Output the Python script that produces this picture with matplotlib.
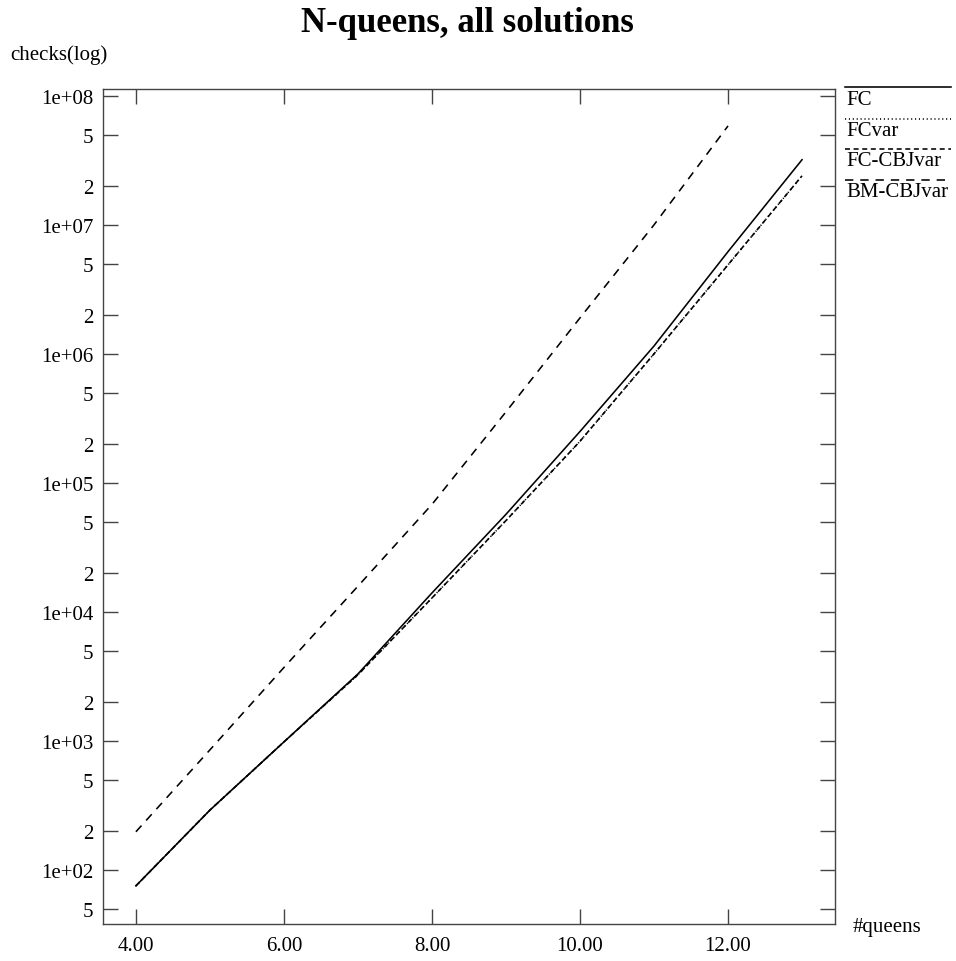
import numpy as np
import matplotlib
matplotlib.use("Agg")
import matplotlib.pyplot as plt
from matplotlib.lines import Line2D

plt.rcParams["font.family"] = ["Liberation Serif", "DejaVu Serif"]
plt.rcParams["lines.scale_dashes"] = False

# number of queens and consistency checks per algorithm
queens = [4, 5, 6, 7, 8, 9, 10, 11, 12, 13]
fc = [75, 290, 980, 3300, 14000, 57000, 2.5e5, 1.15e6, 6.2e6, 3.2e7]
fc_var = [75, 290, 980, 3250, 12800, 51000, 2.1e5, 1.0e6, 4.9e6, 2.4e7]
fc_cbj_var = [75, 290, 980, 3250, 12800, 51000, 2.1e5, 1.0e6, 4.9e6, 2.4e7]
queens_bm = [4, 5, 6, 7, 8, 9, 10, 11, 12]
bm_cbj_var = [197, 850, 3700, 15800, 68000, 355000, 1.9e6, 1.0e7, 5.85e7]

series = [
    ("FC", queens, fc, "-"),
    ("FCvar", queens, fc_var, (0, (0.8, 2.0))),
    ("FC-CBJvar", queens, fc_cbj_var, (0, (3.6, 2.6))),
    ("BM-CBJvar", queens_bm, bm_cbj_var, (0, (6.0, 5.0))),
]

x_ticks = [4, 6, 8, 10, 12]
y_ticks = [m * 10.0 ** e for e in range(1, 9) for m in (1, 2, 5)]
y_ticks = [v for v in y_ticks if 50 <= v <= 1e8]

fig = plt.figure(figsize=(9.56, 9.62), dpi=100)
ax = fig.add_axes([0.1077, 0.0385, 0.7657, 0.8679])

for name, xs, ys, ls in series:
    ax.plot(xs, ys, color="black", linestyle=ls, linewidth=1.15)

ax.set_yscale("log")
ax.set_xlim(3.555, 13.445)
ax.set_ylim(38, 1.13e8)

ax.set_xticks(x_ticks)
ax.set_xticklabels([f"{v:.2f}" for v in x_ticks])
ax.set_yticks(y_ticks)
labels = []
for v in y_ticks:
    e = int(np.floor(np.log10(v) + 1e-9))
    m = int(round(v / 10 ** e))
    labels.append(f"1e+{e:02d}" if m == 1 else str(m))
ax.set_yticklabels(labels)
ax.minorticks_off()

ax.tick_params(axis="both", direction="in", length=11, width=1.0,
               color="#444444", labelsize=15, top=True, right=True)
ax.tick_params(axis="y", pad=7)
ax.tick_params(axis="x", pad=9)
for sp in ax.spines.values():
    sp.set_color("#444444")
    sp.set_linewidth(1.0)

fig.text(0.4885, 0.976, "N-queens, all solutions", ha="center", va="center",
         fontsize=25, fontweight="bold")
fig.text(0.0105, 0.943, "checks(log)", ha="left", va="center", fontsize=15)
fig.text(0.892, 0.036, "#queens", ha="left", va="center", fontsize=15)

# legend: sample line above each label
leg_y = [0.9085, 0.8755, 0.8445, 0.812]
for (name, xs, ys, ls), y in zip(series, leg_y):
    fig.add_artist(Line2D([0.884, 0.995], [y, y], transform=fig.transFigure,
                          color="black", linestyle=ls, linewidth=1.15))
    fig.text(0.885, y - 0.0125, name, ha="left", va="center", fontsize=15)

fig.savefig("out.png", dpi=100)
